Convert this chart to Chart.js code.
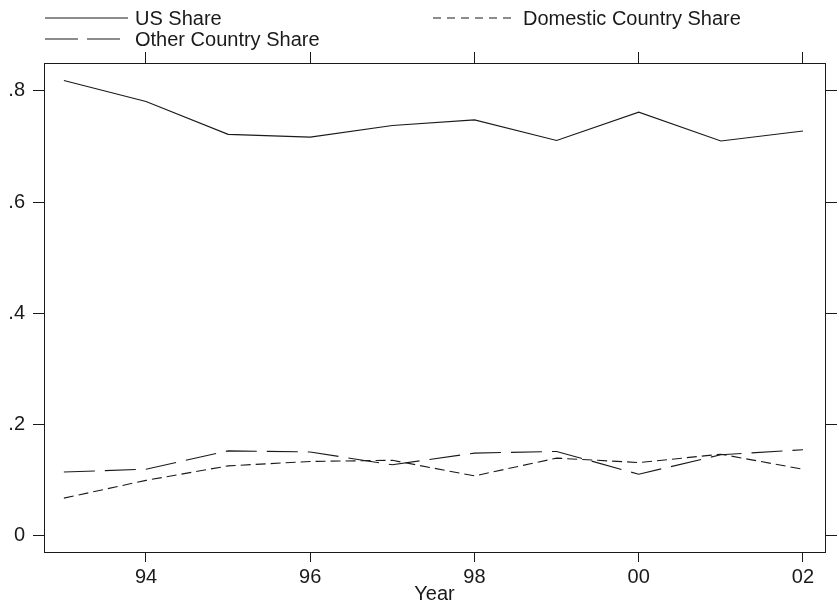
<!DOCTYPE html>
<html>
<head>
<meta charset="utf-8">
<script src="https://cdn.jsdelivr.net/npm/chart.js@4.4.1/dist/chart.umd.min.js"></script>
<style>
html, body { margin: 0; padding: 0; background: #fff; }
</style>
</head>
<body>
<canvas id="chart" width="839" height="607"></canvas>
<script>
// values
const years = [1993, 1994, 1995, 1996, 1997, 1998, 1999, 2000, 2001, 2002]
const usShare = [0.819, 0.781, 0.722, 0.717, 0.738, 0.748, 0.711, 0.762, 0.710, 0.728]
const domesticShare = [0.068, 0.100, 0.126, 0.134, 0.136, 0.108, 0.140, 0.132, 0.147, 0.120]
const otherShare = [0.115, 0.120, 0.153, 0.151, 0.128, 0.149, 0.152, 0.111, 0.146, 0.155]
const xTickValues = [1994, 1996, 1998, 2000, 2002]
const xTickLabels = ['94', '96', '98', '00', '02']
const yTickValues = [0, 0.2, 0.4, 0.6, 0.8]
const yTickLabels = ['0', '.2', '.4', '.6', '.8']

const ink = '#1a1a1a'
Chart.defaults.font.family = '"Liberation Sans", Arial, sans-serif'
Chart.defaults.color = ink

function pts(vals) {
  return years.map((y, i) => ({ x: y, y: vals[i] }))
}

// frame with outward tick marks on all four sides
function axis(pos, size, showLabels, tickLen) {
  const horiz = pos === 'top' || pos === 'bottom'
  const vals = horiz ? xTickValues : yTickValues
  const labels = horiz ? xTickLabels : yTickLabels
  return {
    type: 'linear',
    position: pos,
    min: horiz ? 1992.758 : -0.0288,
    max: horiz ? 2002.268 : 0.8503,
    afterBuildTicks: s => { s.ticks = vals.map(v => ({ value: v })) },
    afterFit: s => { if (horiz) s.height = size; else s.width = size },
    border: { display: true, color: ink, width: 1 },
    grid: { display: true, drawOnChartArea: false, drawTicks: true, tickLength: tickLen, color: ink, lineWidth: 1 },
    ticks: {
      display: showLabels,
      padding: horiz ? 3 : 8,
      maxRotation: 0,
      autoSkip: false,
      font: { size: 20 },
      color: ink,
      callback: (v, i) => labels[i]
    },
    title: (pos === 'bottom') ? { display: true, text: 'Year', font: { size: 20 }, color: ink, padding: { top: 0, bottom: 1 } } : { display: false }
  }
}

const legendSpots = [
  { x: 45, y: 18 },
  { x: 433, y: 18 },
  { x: 45, y: 39 }
]

const legendPlugin = {
  id: 'gridLegend',
  afterDraw(chart) {
    const ctx = chart.ctx
    ctx.save()
    chart.data.datasets.forEach((ds, i) => {
      const p = legendSpots[i]
      ctx.strokeStyle = ds.borderColor
      ctx.lineWidth = ds.borderWidth
      ctx.setLineDash(ds.legendDash || ds.borderDash || [])
      ctx.beginPath()
      ctx.moveTo(p.x, p.y)
      ctx.lineTo(p.x + 83, p.y)
      ctx.stroke()
      ctx.setLineDash([])
      ctx.fillStyle = ink
      ctx.font = '20px "Liberation Sans", Arial, sans-serif'
      ctx.textBaseline = 'middle'
      ctx.fillText(ds.label, p.x + 90, p.y + 1)
    })
    ctx.restore()
  }
}

new Chart(document.getElementById('chart'), {
  type: 'line',
  data: {
    datasets: [
      { label: 'US Share', data: pts(usShare), borderColor: ink, borderWidth: 1.1, borderDash: [] },
      { label: 'Domestic Country Share', data: pts(domesticShare), borderColor: ink, borderWidth: 1.1, borderDash: [10, 5], legendDash: [8, 6] },
      { label: 'Other Country Share', data: pts(otherShare), borderColor: ink, borderWidth: 1.1, borderDash: [31, 10], legendDash: [33, 9] }
    ]
  },
  options: {
    responsive: false,
    animation: false,
    devicePixelRatio: 1,
    layout: { padding: 0 },
    elements: { point: { radius: 0 }, line: { tension: 0 } },
    plugins: { legend: { display: false }, tooltip: { enabled: false } },
    scales: {
      x: axis('bottom', 55, true, 10),
      x2: axis('top', 63, false, 11),
      y: axis('left', 44, true, 11),
      y2: axis('right', 14, false, 12)
    }
  },
  plugins: [legendPlugin]
})
</script>
</body>
</html>
